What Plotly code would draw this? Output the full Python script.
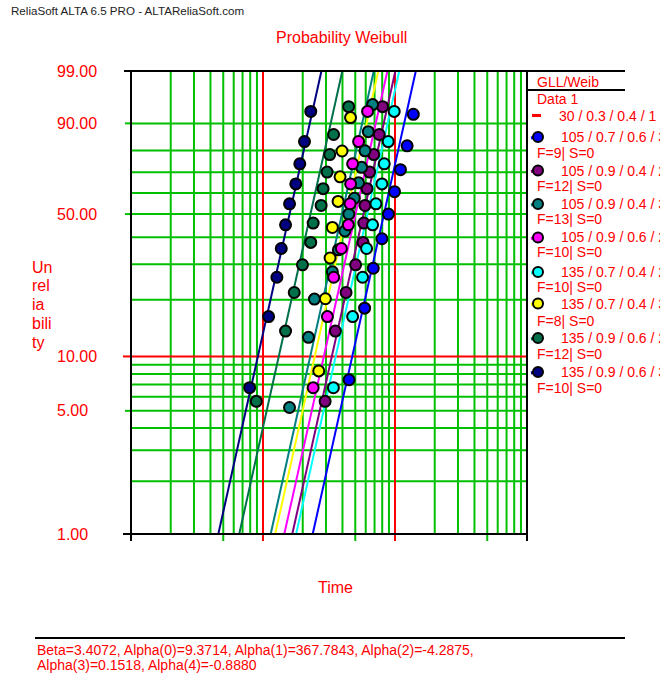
import math
import plotly.graph_objects as go

# ---------------- data ----------------
BETA = 3.4072
param_line1 = "Beta=3.4072, Alpha(0)=9.3714, Alpha(1)=367.7843, Alpha(2)=-4.2875,"
param_line2 = "Alpha(3)=0.1518, Alpha(4)=-0.8880"

use_label = "30 / 0.3 / 0.4 / 1"
labels = ["105 / 0.7 / 0.6 / 3", "105 / 0.9 / 0.4 / 2", "105 / 0.9 / 0.4 / 3",
          "105 / 0.9 / 0.6 / 2", "135 / 0.7 / 0.4 / 2", "135 / 0.7 / 0.4 / 3",
          "135 / 0.9 / 0.6 / 2", "135 / 0.9 / 0.6 / 3"]
fail_counts = [9, 12, 13, 10, 10, 8, 12, 10]
etas = [918.4, 643.0, 441.2, 559.4, 687.5, 477.1, 254.9, 177.0]

t_blue = [448.6, 588.3, 684.4, 796.2, 891.7, 991.3, 1100, 1236, 1377]
t_purple = [295.4, 353.5, 425.8, 503.1, 572.2, 580.1, 592.5, 613.5, 641.8, 690.5, 759.9, 804.7]
t_teal = [158.8, 221.1, 245.3, 335.5, 372.4, 417.0, 447.0, 491.8, 530.1, 558.5, 592.5, 627.5, 676.3]
t_magenta = [239.9, 307.5, 343.2, 392.4, 443.1, 457.2, 461.2, 477.5, 530.1, 619.9]
t_cyan = [341.4, 477.5, 568.1, 609.1, 676.3, 717.3, 796.2, 828.8, 888.4, 986.3]
t_yellow = [264.4, 297.0, 322.3, 335.5, 370.5, 383.6, 397.1, 460.4]
t_dkgreen = [89.0, 148.2, 172.4, 199.1, 230.0, 239.9, 275.6, 285.3, 305.9, 320.1, 342.6, 445.5]
t_navy = [79.2, 110.2, 127.4, 137.5, 148.2, 158.9, 177.2, 190.0, 206.2, 230.0]

F_n8 = [8.33, 20.24, 32.14, 44.05, 55.95, 67.86, 79.76, 91.67]
F_n9 = [7.45, 18.09, 28.72, 39.36, 50.00, 60.64, 71.28, 81.91, 92.55]
F_n10 = [6.73, 16.35, 25.96, 35.58, 45.19, 54.81, 64.42, 74.04, 83.65, 93.27]
F_n12 = [5.65, 13.71, 21.77, 29.84, 37.90, 45.97, 54.03, 62.10, 70.16, 78.23, 86.29, 94.35]
F_n13 = [5.22, 12.69, 20.15, 27.61, 35.07, 42.54, 50.00, 57.46, 64.93, 72.39, 79.85, 87.31, 94.78]

times = [t_blue, t_purple, t_teal, t_magenta, t_cyan, t_yellow, t_dkgreen, t_navy]
unrel = [F_n9, F_n12, F_n13, F_n10, F_n10, F_n8, F_n12, F_n10]

y_tick_vals = [1, 5, 10, 50, 90, 99]
y_grid_minor = [2, 3, 4, 5, 6, 7, 8, 9, 20, 30, 40, 50, 60, 70, 80, 90]
y_grid_major = [10]
x_grid_minor = [20, 30, 40, 50, 60, 70, 80, 90, 200, 300, 400, 500, 600, 700, 800, 900,
                2000, 3000, 4000, 5000, 6000, 7000, 8000, 9000]
x_grid_major = [100, 1000]
x_minor_ticks = [50, 500, 5000]
y_minor_ticks = [5, 50, 90]

# ---------------- styles ----------------
colors = ["#0000FF", "#800080", "#008080", "#FF00FF", "#00FFFF", "#FFFF00", "#00704A", "#000080"]
GREEN = "#00C000"
RED = "#FF0000"
FONT = "Arial, Liberation Sans, sans-serif"

L, R, T, B = 131, 527, 71, 534
W, H = 660, 677


def wb(F):
    return math.log(-math.log(1 - F / 100.0))


Y_LO, Y_HI = wb(1), wb(99)
X_LO, X_HI = 1, 4


def X(px):
    return (px - L) / (R - L)


def Y(py):
    return (B - py) / (B - T)


def xp(v):
    return (math.log10(v) - X_LO) / (X_HI - X_LO)


def yp(F):
    return (wb(F) - Y_LO) / (Y_HI - Y_LO)


fig = go.Figure()

# fitted lines
for eta, col in zip(etas, colors):
    Fs = [1, 99]
    ts = [eta * (-math.log(1 - f / 100)) ** (1 / BETA) for f in Fs]
    fig.add_trace(go.Scatter(x=ts, y=[wb(f) for f in Fs], mode="lines",
                             line=dict(color=col, width=2), hoverinfo="skip"))

# data points
for ts, Fs, col in zip(times, unrel, colors):
    fig.add_trace(go.Scatter(x=ts, y=[wb(f) for f in Fs], mode="markers",
                             marker=dict(color=col, size=11, line=dict(color="black", width=2))))

shapes = []
# gridlines
for v in x_grid_minor:
    shapes.append(dict(type="line", xref="paper", yref="paper", x0=xp(v), x1=xp(v), y0=0, y1=1,
                       line=dict(color=GREEN, width=2), layer="below"))
for v in y_grid_minor:
    shapes.append(dict(type="line", xref="paper", yref="paper", x0=0, x1=1, y0=yp(v), y1=yp(v),
                       line=dict(color=GREEN, width=2), layer="below"))
for v in x_grid_major:
    shapes.append(dict(type="line", xref="paper", yref="paper", x0=xp(v), x1=xp(v), y0=0, y1=1,
                       line=dict(color=RED, width=2), layer="below"))
for v in y_grid_major:
    shapes.append(dict(type="line", xref="paper", yref="paper", x0=0, x1=1, y0=yp(v), y1=yp(v),
                       line=dict(color=RED, width=2), layer="below"))

# ticks
for v in x_minor_ticks:
    shapes.append(dict(type="line", xref="paper", yref="paper", x0=xp(v), x1=xp(v), y0=Y(534), y1=Y(541),
                       line=dict(color=GREEN, width=2)))
for v in x_grid_major:
    shapes.append(dict(type="line", xref="paper", yref="paper", x0=xp(v), x1=xp(v), y0=Y(534), y1=Y(541),
                       line=dict(color=RED, width=2)))
for v in y_minor_ticks:
    shapes.append(dict(type="line", xref="paper", yref="paper", x0=X(125), x1=0, y0=yp(v), y1=yp(v),
                       line=dict(color=GREEN, width=2)))
shapes.append(dict(type="line", xref="paper", yref="paper", x0=X(123), x1=0, y0=yp(10), y1=yp(10),
                   line=dict(color=RED, width=2)))


# frame lines
def hline(px0, px1, py, col="black", w=2):
    shapes.append(dict(type="line", xref="paper", yref="paper", x0=X(px0), x1=X(px1), y0=Y(py), y1=Y(py),
                       line=dict(color=col, width=w)))


def vline(px, py0, py1, col="black", w=2):
    shapes.append(dict(type="line", xref="paper", yref="paper", x0=X(px), x1=X(px), y0=Y(py0), y1=Y(py1),
                       line=dict(color=col, width=w)))


hline(124, 625, T)          # top
hline(123, R, B)            # bottom axis
vline(L, T, 541)            # left axis
vline(R, T, 541)            # right border
hline(R, 625, 90)           # legend separator
hline(35, 625, 638)         # footer separator

# legend markers
leg_marker_y = [137, 170.5, 204, 237.5, 272, 303.5, 338, 372]
leg_F_y = [153, 185.5, 219, 252, 287, 321, 353.5, 388]
for col, my in zip(colors, leg_marker_y):
    shapes.append(dict(type="line", xref="paper", yref="paper", x0=X(531), x1=X(536), y0=Y(my + 1), y1=Y(my),
                       line=dict(color=col, width=3)))
    shapes.append(dict(type="circle", xref="paper", yref="paper", xsizemode="pixel", ysizemode="pixel",
                       xanchor=X(538), yanchor=Y(my), x0=-5, x1=5, y0=-5, y1=5,
                       fillcolor=col, line=dict(color="black", width=2)))
hline(532, 541, 115.5, col=RED, w=3)

annotations = []


def ann(text, px, py, size, color=RED, xanchor="left"):
    annotations.append(dict(text=text, x=X(px), y=Y(py), xref="paper", yref="paper",
                            xanchor=xanchor, yanchor="middle", showarrow=False,
                            font=dict(family=FONT, size=size, color=color)))


ann("ReliaSoft ALTA 6.5 PRO - ALTAReliaSoft.com", 9, 10, 11.6, color="#222222")
ann("Probability Weibull", 341, 37, 16, xanchor="center")
ann("Time", 335, 587, 16, xanchor="center")
for i, word in enumerate(["Un", "rel", "ia", "bili", "ty"]):
    ann(word, 30, 267 + i * 18.8, 16)
for v in y_tick_vals:
    ann(f"{v:.2f}", 55, B - yp(v) * (B - T), 16)

ann("GLL/Weib", 535, 82, 14)
ann("Data 1", 535, 99, 14)
ann(use_label, 557, 116, 14)
for lab, n, my, fy in zip(labels, fail_counts, leg_marker_y, leg_F_y):
    ann(lab, 559, my, 14)
    ann(f"F={n}| S=0", 535, fy, 14)

ann(param_line1, 35, 650, 14)
ann(param_line2, 35, 664.5, 14)

fig.update_layout(
    width=W, height=H,
    margin=dict(l=L, r=W - R, t=T, b=H - B, pad=0),
    plot_bgcolor="white", paper_bgcolor="white",
    showlegend=False,
    xaxis=dict(type="log", range=[X_LO, X_HI], showgrid=False, zeroline=False, showline=False,
               showticklabels=False, ticks=""),
    yaxis=dict(range=[Y_LO, Y_HI], showgrid=False, zeroline=False, showline=False,
               showticklabels=False, ticks=""),
    shapes=shapes,
    annotations=annotations,
)

fig.write_html("out.html", config={"displayModeBar": False},
               post_script="document.body.style.margin='0px';document.body.style.overflow='hidden';")
